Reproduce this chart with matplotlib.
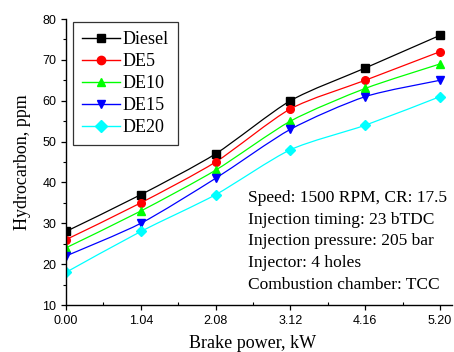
import matplotlib

matplotlib.use("Agg")
import matplotlib.pyplot as plt
import numpy as np
from matplotlib.path import Path
from matplotlib.patches import PathPatch
from matplotlib.lines import Line2D
from matplotlib.ticker import MultipleLocator

brake_power = [0.00, 1.04, 2.08, 3.12, 4.16, 5.20]
x_ticks = ["0.00", "1.04", "2.08", "3.12", "4.16", "5.20"]

diesel = [28, 37, 47, 60, 68, 76]
de5 = [26, 35, 45, 58, 65, 72]
de10 = [24, 33, 43, 55, 63, 69]
de15 = [22, 30, 41, 53, 61, 65]
de20 = [18, 28, 37, 48, 54, 61]

series = [
    ("Diesel", diesel, "black", "s"),
    ("DE5", de5, "#ff0000", "o"),
    ("DE10", de10, "#00ff00", "^"),
    ("DE15", de15, "#0000ff", "v"),
    ("DE20", de20, "#00ffff", "D"),
]

conditions = [
    "Speed: 1500 RPM, CR: 17.5",
    "Injection timing: 23 bTDC",
    "Injection pressure: 205 bar",
    "Injector: 4 holes",
    "Combustion chamber: TCC",
]

serif = "Liberation Serif"
sans = "Liberation Sans"


def smooth_path(x, y, k=8.0):
    # cardinal spline through the points, drawn as cubic bezier segments
    pts = np.column_stack([x, y]).astype(float)
    verts = [pts[0]]
    codes = [Path.MOVETO]
    n = len(pts)
    for i in range(n - 1):
        p0 = pts[i - 1] if i > 0 else pts[i]
        p1, p2 = pts[i], pts[i + 1]
        p3 = pts[i + 2] if i + 2 < n else pts[i + 1]
        c1 = p1 + (p2 - p0) / k
        c2 = p2 - (p3 - p1) / k
        verts += [c1, c2, p2]
        codes += [Path.CURVE4] * 3
    return Path(verts, codes)


fig = plt.figure(figsize=(4.54, 3.52), dpi=100)
ax = fig.add_axes([66 / 454, 1 - 305 / 352, (452 - 66) / 454, (305 - 19) / 352])

for name, values, color, marker in series:
    ax.add_patch(PathPatch(smooth_path(brake_power, values), facecolor="none",
                           edgecolor=color, linewidth=0.9))
    ax.plot(brake_power, values, linestyle="none", marker=marker, color=color,
            markersize=5.5 if marker != "D" else 5, label=name)

ax.set_xlim(0, 5.2 * 386 / 374)
ax.set_ylim(10, 80)
ax.set_xticks(brake_power)
ax.set_xticklabels(x_ticks)
ax.set_xticks([0.52, 1.56, 2.60, 3.64, 4.68], minor=True)
ax.yaxis.set_major_locator(MultipleLocator(10))
ax.yaxis.set_minor_locator(MultipleLocator(5))
ax.spines["top"].set_visible(False)
ax.spines["right"].set_visible(False)
for s in ("left", "bottom"):
    ax.spines[s].set_linewidth(1.0)
ax.tick_params(which="major", direction="out", length=3.5, width=0.9, labelsize=9)
ax.tick_params(axis="y", which="minor", direction="out", length=2.5, width=0.8)
ax.tick_params(axis="x", which="minor", direction="in", length=2.5, width=0.8)
for lbl in ax.get_xticklabels() + ax.get_yticklabels():
    lbl.set_fontfamily(sans)

ax.set_xlabel("Brake power, kW", fontfamily=serif, fontsize=13)
ax.xaxis.set_label_coords((253 - 66) / 386, -(335 - 305) / 286)
ax.set_ylabel("Hydrocarbon, ppm", fontfamily=serif, fontsize=13, labelpad=8)

handles = [Line2D([], [], color=c, marker=m, markersize=6, linewidth=1.0)
           for _, _, c, m in series]
leg = ax.legend(handles, [s[0] for s in series], loc="upper left",
                bbox_to_anchor=(73 / 454, 1 - 22 / 352), bbox_transform=fig.transFigure,
                prop={"family": serif, "size": 13}, frameon=True, fancybox=False,
                handlelength=2.1, handletextpad=0.15, labelspacing=0.28,
                borderpad=0.5, borderaxespad=0)
leg.get_frame().set_edgecolor("black")
leg.get_frame().set_linewidth(0.9)

fig.text(248 / 454, 1 - 190 / 352, "\n".join(conditions), fontfamily=serif,
         fontsize=12.5, va="top", ha="left", linespacing=1.47)

fig.savefig("out.png", dpi=100)
